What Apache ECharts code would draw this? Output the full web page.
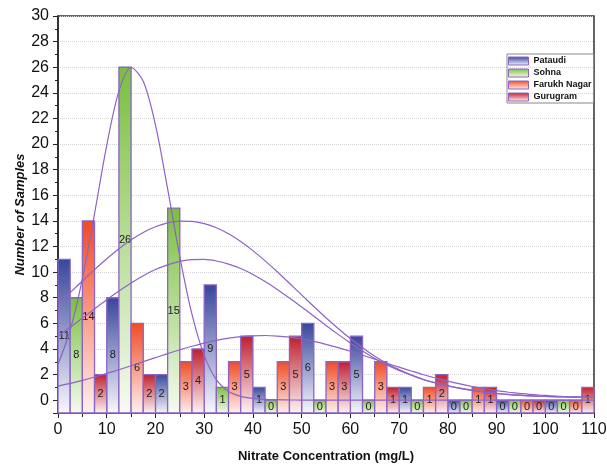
<!DOCTYPE html>
<html>
<head>
<meta charset="utf-8">
<script src="https://cdn.jsdelivr.net/npm/echarts@6/dist/echarts.min.js"></script>
<style>
  html, body { margin: 0; padding: 0; background: #fff; }
  #chart { width: 607px; height: 466px; }
</style>
</head>
<body>
<div id="chart"></div>
<script>
// histogram bins (left edge of each 10 mg/L class)
const binStarts = [0, 10, 20, 30, 40, 50, 60, 70, 80, 90, 100]
const pataudi = [11, 8, 2, 9, 1, 6, 5, 1, 0, 0, 0]
const sohna = [8, 26, 15, 1, 0, 0, 0, 0, 0, 0, 0]
const farukhNagar = [14, 6, 3, 3, 3, 3, 3, 1, 1, 0, 0]
const gurugram = [2, 2, 4, 5, 5, 3, 1, 2, 1, 0, 1]

// fitted distribution curves
const fitX = [0, 2.5, 5, 7.5, 10, 12.5, 15, 17.5, 20, 22.5, 25, 27.5, 30, 32.5, 35, 37.5, 40, 42.5, 45, 47.5,
  50, 52.5, 55, 57.5, 60, 62.5, 65, 67.5, 70, 72.5, 75, 77.5, 80, 82.5, 85, 87.5, 90, 92.5, 95, 97.5,
  100, 102.5, 105, 107.5, 110]
const fitSohna = [2.8, 5.46, 9.47, 14.57, 19.9, 24.13, 25.98, 24.9, 21.5, 16.5, 11.2, 6.7, 3.5, 1.6, 0.68, 0.3, 0.14, 0.07, 0.04, 0.02,
  0.01, 0, 0, 0, 0, 0, 0, 0, 0, 0, 0, 0, 0, 0, 0, 0, 0, 0, 0, 0,
  0, 0, 0, 0, 0]
const fitUpper = [7.5, 8.4, 9.31, 10.2, 11.05, 11.83, 12.52, 13.1, 13.54, 13.84, 13.99, 13.97, 13.79, 13.46, 12.99, 12.39, 11.68, 10.88, 10.03, 9.13,
  8.22, 7.32, 6.44, 5.6, 4.81, 4.09, 3.43, 2.87, 2.4, 1.98, 1.62, 1.35, 1.12, 0.92, 0.76, 0.62, 0.52, 0.44, 0.37, 0.32,
  0.29, 0.26, 0.24, 0.23, 0.22]
const fitMiddle = [5.0, 5.7, 6.41, 7.13, 7.84, 8.52, 9.15, 9.72, 10.2, 10.57, 10.84, 10.98, 10.99, 10.87, 10.63, 10.28, 9.82, 9.27, 8.65, 7.98,
  7.28, 6.56, 5.84, 5.14, 4.47, 3.84, 3.26, 2.76, 2.33, 1.95, 1.61, 1.35, 1.13, 0.94, 0.78, 0.65, 0.54, 0.45, 0.39, 0.34,
  0.3, 0.27, 0.25, 0.23, 0.22]
const fitWide = [1.1, 1.31, 1.55, 1.81, 2.09, 2.38, 2.69, 3.01, 3.32, 3.64, 3.93, 4.21, 4.46, 4.67, 4.84, 4.96, 5.03, 5.05, 5.01, 4.92,
  4.78, 4.59, 4.36, 4.1, 3.82, 3.51, 3.2, 2.88, 2.58, 2.28, 1.99, 1.73, 1.49, 1.27, 1.07, 0.9, 0.74, 0.62, 0.52, 0.43,
  0.37, 0.31, 0.27, 0.24, 0.21]

const FONT = '"Liberation Sans", Arial, sans-serif'
const EDGE = '#8d63c6'
const BAR_W = 2.5
const Y_MIN = -1

function grad(top, bottom) {
  return new echarts.graphic.LinearGradient(0, 0, 0, 1, [
    { offset: 0, color: top },
    { offset: 1, color: bottom }
  ])
}

const groups = [
  { name: 'Pataudi', values: pataudi, shift: 0, fill: grad('#37469b', '#f8f8fd') },
  { name: 'Sohna', values: sohna, shift: 2.5, fill: grad('#79bf3e', '#f6fbf2') },
  { name: 'Farukh Nagar', values: farukhNagar, shift: 5, fill: grad('#f14a22', '#fdf1f1') },
  { name: 'Gurugram', values: gurugram, shift: 7.5, fill: grad('#be1e2d', '#fdf5f5') }
]

function barSeries(g) {
  return {
    name: g.name,
    type: 'custom',
    z: 2,
    data: binStarts.map((b, i) => [b + g.shift, g.values[i]]),
    encode: { x: 0, y: 1 },
    itemStyle: { color: g.fill, borderColor: EDGE, borderWidth: 1.3 },
    renderItem: (params, api) => {
      const x = api.value(0)
      const v = api.value(1)
      const a = api.coord([x, Y_MIN])
      const b = api.coord([x + BAR_W, v])
      return {
        type: 'rect',
        shape: { x: a[0], y: b[1], width: b[0] - a[0], height: a[1] - b[1] },
        style: { fill: g.fill, stroke: EDGE, lineWidth: 1.3 },
        textContent: { style: { text: String(v), fontSize: 11, fill: '#222', fontFamily: FONT } },
        textConfig: { position: 'inside' }
      }
    }
  }
}

function fitSeries(name, ys) {
  return {
    name: name,
    type: 'line',
    z: 4,
    silent: true,
    smooth: 0.3,
    showSymbol: false,
    data: fitX.map((x, i) => [x, ys[i]]),
    lineStyle: { color: EDGE, width: 1.2 }
  }
}

const chart = echarts.init(document.getElementById('chart'))
chart.setOption({
  backgroundColor: '#fff',
  animation: false,
  textStyle: { fontFamily: FONT },
  grid: {
    left: 58, right: 13, top: 16, bottom: 53,
    show: true, borderColor: '#333', borderWidth: 1.5,
    outerBoundsMode: 'none'
  },
  legend: {
    left: 507, top: 54,
    orient: 'vertical',
    itemWidth: 20, itemHeight: 8, itemGap: 0,
    padding: [1, 2, 0, 1],
    borderColor: '#888', borderWidth: 1,
    icon: 'rect',
    textStyle: { fontSize: 9, fontWeight: 'bold', color: '#111', lineHeight: 12, fontFamily: FONT },
    data: groups.map(g => ({
      name: g.name,
      itemStyle: { color: g.fill, borderColor: EDGE, borderWidth: 1 }
    }))
  },
  xAxis: {
    type: 'value', min: 0, max: 110, interval: 10,
    name: 'Nitrate Concentration (mg/L)',
    nameLocation: 'middle', nameGap: 37,
    nameMoveOverlap: false,
    nameTextStyle: { fontSize: 13, fontWeight: 'bold', color: '#111', fontFamily: FONT },
    axisLine: { show: true, onZero: false, lineStyle: { color: '#222', width: 1.5 } },
    axisTick: { show: true, length: 5, lineStyle: { color: '#222' } },
    minorTick: { show: true, splitNumber: 2, length: 4, lineStyle: { color: '#222' } },
    axisLabel: { fontSize: 16, color: '#111', margin: 9, fontFamily: FONT },
    splitLine: { show: false }
  },
  yAxis: {
    type: 'value', min: Y_MIN, max: 30, splitNumber: 15,
    name: 'Number of Samples',
    nameLocation: 'middle', nameGap: 31,
    nameMoveOverlap: false,
    nameTextStyle: { fontSize: 13, fontWeight: 'bold', fontStyle: 'italic', color: '#111', fontFamily: FONT },
    axisLine: { show: true, lineStyle: { color: '#222', width: 1.5 } },
    axisTick: { show: true, length: 5, lineStyle: { color: '#222' } },
    minorTick: { show: true, splitNumber: 2, length: 3, lineStyle: { color: '#222' } },
    axisLabel: {
      fontSize: 16, color: '#111', margin: 9, fontFamily: FONT,
      formatter: v => (v < 0 ? '' : String(v))
    },
    splitLine: { show: true, lineStyle: { color: '#d4d4d4', type: 'dotted' } }
  },
  series: [
    ...groups.map(barSeries),
    fitSeries('Sohna fit', fitSohna),
    fitSeries('Upper fit', fitUpper),
    fitSeries('Middle fit', fitMiddle),
    fitSeries('Wide fit', fitWide)
  ]
})
</script>
</body>
</html>
